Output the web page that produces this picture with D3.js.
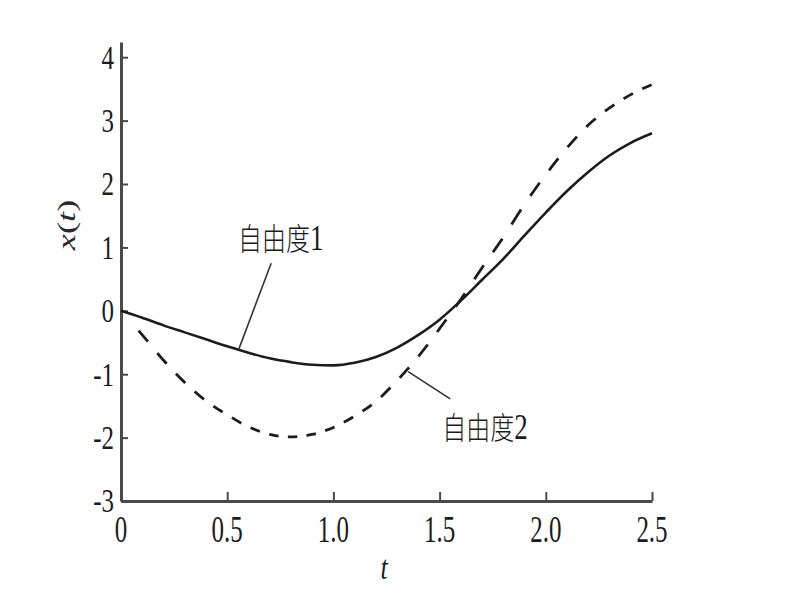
<!DOCTYPE html>
<html>
<head>
<meta charset="utf-8">
<script src="https://cdn.jsdelivr.net/npm/d3@7"></script>
<style>
  html, body { margin: 0; padding: 0; background: #fff; }
  svg { display: block; }
</style>
</head>
<body>
<svg id="chart" width="800" height="600"></svg>
<script>
// ---------- data ----------
const tValues = [0, 0.1, 0.2, 0.3, 0.4, 0.5, 0.6, 0.7, 0.8, 0.9, 1.0, 1.1, 1.2, 1.3, 1.4, 1.5,
                 1.6, 1.7, 1.8, 1.9, 2.0, 2.1, 2.2, 2.3, 2.4, 2.5];
// 自由度1 (solid)
const dof1 = [0, -0.11, -0.23, -0.34, -0.45, -0.56, -0.66, -0.75, -0.81, -0.85, -0.86, -0.82, -0.73, -0.58, -0.38, -0.14,
              0.16, 0.49, 0.82, 1.19, 1.55, 1.89, 2.19, 2.45, 2.65, 2.80];
// 自由度2 (dashed)
const dof2 = [0, -0.38, -0.78, -1.13, -1.42, -1.64, -1.83, -1.95, -1.99, -1.95, -1.84, -1.66, -1.43, -1.10, -0.72, -0.28,
              0.18, 0.68, 1.16, 1.68, 2.15, 2.57, 2.93, 3.20, 3.41, 3.57];
const xTicks = [0, 0.5, 1.0, 1.5, 2.0, 2.5];
const xTickLabels = ["0", "0.5", "1.0", "1.5", "2.0", "2.5"];
const yTicks = [4, 3, 2, 1, 0, -1, -2, -3];
const yTickLabels = ["4", "3", "2", "1", "0", "-1", "-2", "-3"];
const seriesNames = ["自由度1", "自由度2"];
// annotation anchors (data coordinates): label position and leader line ends
const labelPos = [[0.551, 0.96], [1.512, -2.02]];
const leaderFrom = [[0.707, 0.75], [1.352, -0.96]];
const leaderTo = [[0.553, -0.62], [1.55, -1.39]];
const xLabel = "t";
const yLabel = "x(t)";

// ---------- layout ----------
const svg = d3.select("#chart");
const x = d3.scaleLinear().domain([0, 2.5]).range([121, 652]);
const y = d3.scaleLinear().domain([-3, 4.24]).range([501, 42]);
const ink = "#1c1c1c";
const serif = "Liberation Serif, Times New Roman, serif";
const cjk = "Noto Sans CJK SC, Noto Sans CJK JP, sans-serif";

// axes
const axisStroke = "#4a4a4a";
const gx = svg.append("g").attr("transform", `translate(0,${y(-3)})`)
  .call(d3.axisBottom(x).tickValues(xTicks).tickSizeInner(-9).tickSizeOuter(0).tickFormat(""));
gx.select(".domain").attr("stroke", axisStroke).attr("stroke-width", 3);
gx.selectAll(".tick line").attr("stroke", axisStroke).attr("stroke-width", 2);

const gy = svg.append("g").attr("transform", `translate(${x(0)},0)`)
  .call(d3.axisLeft(y).tickValues(yTicks).tickSizeInner(-7).tickSizeOuter(0).tickFormat(""));
gy.select(".domain").attr("stroke", axisStroke).attr("stroke-width", 3);
gy.selectAll(".tick line").attr("stroke", axisStroke).attr("stroke-width", 2);

// tick labels (tall, narrow serif like the reference)
const fs = 25;
svg.append("g").selectAll("text").data(xTicks).join("text")
  .attr("transform", (d) => `translate(${x(d)},${529 + 0.33 * fs * 1.55}) scale(1,1.55)`)
  .attr("text-anchor", "middle")
  .style("font-family", serif).attr("font-size", fs).attr("fill", ink)
  .text((d, i) => xTickLabels[i]);

svg.append("g").selectAll("text").data(yTicks).join("text")
  .attr("transform", (d) => `translate(114,${y(d) + 0.33 * fs * 1.38}) scale(1,1.38)`)
  .attr("text-anchor", "end")
  .style("font-family", serif).attr("font-size", fs).attr("fill", ink)
  .text((d, i) => yTickLabels[i]);

// axis titles
svg.append("text")
  .attr("transform", `translate(384,579) scale(1,1.3)`)
  .attr("text-anchor", "middle")
  .style("font-family", serif).attr("font-style", "italic")
  .attr("font-size", 26).attr("fill", ink)
  .text(xLabel);

const yl = svg.append("text")
  .attr("transform", `translate(75,225) rotate(-90) scale(1.4,1)`)
  .attr("text-anchor", "middle")
  .style("font-family", serif).attr("font-size", 26).attr("fill", "#2a2a2a");
yl.append("tspan").attr("font-style", "italic").text("x");
yl.append("tspan").text("(");
yl.append("tspan").attr("font-style", "italic").text("t");
yl.append("tspan").text(")");

// ---------- curves ----------
const line = d3.line().x((d) => x(d[0])).y((d) => y(d[1])).curve(d3.curveMonotoneX);

svg.append("path")
  .datum(tValues.map((t, i) => [t, dof1[i]]))
  .attr("d", line)
  .attr("fill", "none").attr("stroke", ink).attr("stroke-width", 2.6);

const dashedPath = svg.append("path")
  .datum(tValues.map((t, i) => [t, dof2[i]]))
  .attr("d", line)
  .attr("fill", "none").attr("stroke", ink).attr("stroke-width", 2.8);

// dashes in the reference are spaced evenly along t; build a matching dash array
(function () {
  const node = dashedPath.node();
  const L = node.getTotalLength();
  const samples = [];
  for (let l = 0; l <= L; l += 0.5) samples.push([l, node.getPointAtLength(l).x]);
  samples.push([L, node.getPointAtLength(L).x]);
  function lenAtX(px) {
    if (px <= samples[0][1]) return 0;
    for (let i = 1; i < samples.length; i++) {
      if (samples[i][1] >= px) {
        const a = samples[i - 1], b = samples[i];
        const f = b[1] === a[1] ? 0 : (px - a[1]) / (b[1] - a[1]);
        return a[0] + f * (b[0] - a[0]);
      }
    }
    return L;
  }
  const firstCenter = 0.105, step = 0.0878, half = 0.022;
  const arr = [0];
  let pos = 0;
  for (let k = 0; ; k++) {
    const c = firstCenter + k * step;
    if (c - half >= 2.5) break;
    const s = lenAtX(x(c - half));
    const e = lenAtX(x(Math.min(2.5, c + half)));
    arr.push(s - pos, e - s);
    pos = e;
  }
  arr.push(L + 10);
  dashedPath.attr("stroke-dasharray", arr.map((v) => Math.max(0, v).toFixed(2)).join(","));
})();

// ---------- annotations ----------
svg.append("g").selectAll("line").data(leaderFrom).join("line")
  .attr("x1", (d) => x(d[0])).attr("y1", (d) => y(d[1]))
  .attr("x2", (d, i) => x(leaderTo[i][0])).attr("y2", (d, i) => y(leaderTo[i][1]))
  .attr("stroke", "#333").attr("stroke-width", 1.6);

svg.append("g").selectAll("text").data(labelPos).join("text")
  .attr("transform", (d) => `translate(${x(d[0])},${y(d[1])}) scale(1,1.3)`)
  .style("font-family", cjk).attr("font-weight", 300)
  .attr("font-size", 24).attr("fill", ink)
  .each(function (d, i) {
    const name = seriesNames[i];
    const el = d3.select(this);
    el.append("tspan").text(name.slice(0, -1));
    el.append("tspan").style("font-family", serif).attr("font-weight", 400)
      .attr("font-size", 27).text(name.slice(-1));
  });
</script>
</body>
</html>
